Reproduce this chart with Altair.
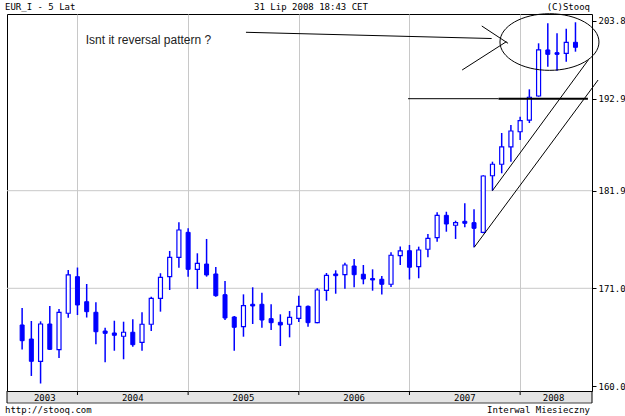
import altair as alt
import pandas as pd

# ---------------- data (monthly EUR_I candles, Jul 2003 - Jul 2008) ----------------
opens = [166.87, 165.29, 162.78, 166.98, 164.09, 168.19, 172.30, 169.49, 168.30, 166.19,
         165.97, 165.60, 166.05, 164.92, 166.95, 169.87, 172.30, 174.46, 177.25, 173.12,
         173.71, 172.60, 170.28, 167.77, 166.68, 169.20, 169.20, 167.58, 167.17, 166.95,
         167.62, 168.97, 167.13, 170.77, 172.60, 172.52, 173.49, 172.57, 172.09, 172.01,
         171.45, 174.66, 175.20, 173.41, 175.36, 176.65, 179.15, 178.04, 178.48, 178.33,
         177.25, 183.69, 185.06, 187.13, 188.95, 190.35, 193.28, 199.71, 199.33, 199.22,
         200.78]
highs = [168.78, 167.32, 167.28, 169.01, 168.67, 173.04, 173.32, 171.48, 169.42, 166.56,
         167.35, 167.24, 167.51, 168.30, 170.05, 172.68, 175.17, 178.37, 177.70, 174.91,
         176.51, 173.38, 171.82, 167.88, 170.32, 171.11, 170.50, 169.20, 168.07, 168.44,
         170.17, 169.06, 171.00, 172.71, 173.01, 173.86, 174.27, 173.60, 173.12, 172.37,
         175.02, 175.67, 175.84, 175.65, 177.06, 179.49, 179.55, 178.55, 180.49, 179.82,
         183.74, 185.37, 188.80, 189.76, 190.75, 194.21, 200.64, 203.44, 202.04, 202.67,
         203.58]
lows = [164.11, 161.13, 160.28, 164.05, 163.15, 167.69, 167.99, 167.71, 164.69, 162.67,
        163.97, 163.01, 164.42, 163.97, 166.19, 168.37, 170.81, 173.30, 172.30, 170.92,
        172.30, 170.05, 167.43, 163.97, 165.55, 166.98, 166.56, 166.31, 164.50, 165.48,
        167.21, 166.68, 167.06, 169.60, 170.39, 170.95, 171.11, 171.45, 170.73, 170.30,
        171.15, 173.60, 171.98, 172.12, 174.46, 176.20, 177.32, 176.51, 177.81, 175.58,
        177.14, 181.90, 183.98, 185.37, 187.96, 189.99, 193.18, 197.37, 196.81, 198.07,
        199.47]
closes = [165.10, 162.78, 166.98, 164.13, 168.30, 172.49, 169.12, 168.37, 166.11, 165.93,
          165.71, 166.05, 164.65, 166.95, 169.87, 172.23, 174.46, 177.51, 173.12, 173.79,
          172.49, 170.17, 167.66, 166.61, 169.04, 169.01, 167.43, 167.13, 166.87, 167.73,
          168.97, 167.13, 170.81, 172.45, 172.41, 173.60, 172.52, 172.04, 171.93, 171.45,
          174.69, 175.17, 173.35, 175.28, 176.58, 179.15, 178.18, 178.33, 178.26, 177.70,
          183.66, 185.06, 187.13, 189.04, 190.27, 193.10, 199.71, 199.10, 199.10, 200.78,
          200.08]
months = pd.date_range("2003-07-01", periods=len(opens), freq="MS")
years = ["2003", "2004", "2005", "2006", "2007", "2008"]
y_tick_values = [160.0, 171.0, 181.9, 192.9, 203.8]
grid_values = [171.0, 181.9]

# hand-drawn annotations, in data coordinates (month index, price)
note_text = ["Isnt it reversal pattern ?"]
note_x = [6.9]
note_y = [200.54]
seg_x1 = [24.27, 49.84, 47.71, 41.85, 50.99, 49.02]
seg_y1 = [202.18, 203.06, 196.91, 192.9, 181.9, 175.58]
seg_x2 = [50.91, 52.69, 52.51, 51.66, 61.39, 62.45]
seg_y2 = [201.31, 200.64, 200.87, 192.9, 198.31, 195.51]
thick_x1 = [51.66]
thick_y1 = [192.9]
thick_x2 = [61.35]
thick_y2 = [192.9]
ellipse_x = [57.18]
ellipse_y = [200.82]

# ---------------- layout ----------------
W, H = 585, 377
BLUE = "#0000ff"
MONO = "DejaVu Sans Mono"

df = pd.DataFrame({"i": range(len(opens)), "open": opens, "high": highs,
                   "low": lows, "close": closes})

x_dom = [-1.098, 61.25]
xs = alt.Scale(domain=x_dom, nice=False, zero=False)
ys = alt.Scale(domain=[159.44] + y_tick_values + [204.74],
               range=[377, 372, 274.3, 176.7, 84.7, 6.7, 0],
               nice=False, zero=False)

boundaries = [k for k, m in enumerate(months) if m.month == 1]
edges = [x_dom[0]] + boundaries + [x_dom[1]]
year_df = pd.DataFrame({"year": years,
                        "c": [(edges[k] + edges[k + 1]) / 2 for k in range(len(years))]})
bound_df = pd.DataFrame({"b": boundaries})

xaxis = alt.Axis(values=boundaries, grid=True, gridColor="#c8c8c8", ticks=False,
                 labels=False, domain=False, title=None)
yaxis = alt.Axis(orient="right", values=y_tick_values, format=".1f", grid=False,
                 domain=False, ticks=True, tickSize=4, tickColor="black",
                 labelPadding=2, labelColor="black", labelFont=MONO, labelFontSize=9,
                 title=None)

grid = alt.Chart(pd.DataFrame({"v": grid_values})).mark_rule(
    color="#c8c8c8", strokeWidth=1).encode(y=alt.Y("v:Q", scale=ys, axis=yaxis))

wicks = alt.Chart(df).mark_rule(color=BLUE, strokeWidth=1.5).encode(
    x=alt.X("i:Q", scale=xs, axis=xaxis),
    y=alt.Y("low:Q", scale=ys, axis=yaxis),
    y2="high:Q")

down = alt.Chart(df).transform_filter("datum.close < datum.open").mark_bar(
    size=4, fill=BLUE, stroke=BLUE, strokeWidth=1).encode(
    x=alt.X("i:Q", scale=xs), y=alt.Y("open:Q", scale=ys), y2="close:Q")

up = alt.Chart(df).transform_filter("datum.close >= datum.open").mark_bar(
    size=4, fill="white", stroke=BLUE, strokeWidth=1.2).encode(
    x=alt.X("i:Q", scale=xs), y=alt.Y("open:Q", scale=ys), y2="close:Q")

seg_df = pd.DataFrame({"x1": seg_x1, "y1": seg_y1, "x2": seg_x2, "y2": seg_y2})
segs = alt.Chart(seg_df).mark_rule(color="black", strokeWidth=1).encode(
    x=alt.X("x1:Q", scale=xs), y=alt.Y("y1:Q", scale=ys), x2="x2:Q", y2="y2:Q")
thick_df = pd.DataFrame({"x1": thick_x1, "y1": thick_y1, "x2": thick_x2, "y2": thick_y2})
thick = alt.Chart(thick_df).mark_rule(color="black", strokeWidth=2).encode(
    x=alt.X("x1:Q", scale=xs), y=alt.Y("y1:Q", scale=ys), x2="x2:Q", y2="y2:Q")

ellipse = alt.Chart(pd.DataFrame({"x": ellipse_x, "y": ellipse_y})).mark_point(
    shape="M -1 0 A 1 0.572 0 1 1 1 0 A 1 0.572 0 1 1 -1 0 Z",
    size=9801, filled=False, color="black", strokeWidth=1, opacity=1).encode(
    x=alt.X("x:Q", scale=xs), y=alt.Y("y:Q", scale=ys))

note = alt.Chart(pd.DataFrame({"t": note_text, "x": note_x, "y": note_y})).mark_text(
    align="left", baseline="alphabetic", font="Liberation Sans", fontSize=12,
    color="#222222").encode(x=alt.X("x:Q", scale=xs), y=alt.Y("y:Q", scale=ys), text="t:N")

# bottom band with year labels
band = alt.Chart(pd.DataFrame({"a": [0]})).mark_rect(fill="#e4e4e4").encode(
    x=alt.value(0), x2=alt.value(W), y=alt.value(H + 1), y2=alt.value(H + 12))
band_line = alt.Chart(pd.DataFrame({"a": [0]})).mark_rule(color="#404040").encode(
    x=alt.value(0), x2=alt.value(W), y=alt.value(H + 12))
band_sides = alt.Chart(pd.DataFrame({"p": [0, W]})).mark_rule(color="black").encode(
    x=alt.X("p:Q", scale=None), y=alt.value(H), y2=alt.value(H + 12))
seps = alt.Chart(bound_df).mark_rule(color="black").encode(
    x=alt.X("b:Q", scale=xs), y=alt.value(H), y2=alt.value(H + 4))
year_lbl = alt.Chart(year_df).mark_text(font=MONO, fontSize=9, color="black",
                                        baseline="middle").encode(
    x=alt.X("c:Q", scale=xs), y=alt.value(H + 7), text="year:N")


def label(txt, x, y, align):
    return alt.Chart(pd.DataFrame({"t": [txt]})).mark_text(
        font=MONO, fontSize=9, color="black", align=align, baseline="middle").encode(
        x=alt.value(x), y=alt.value(y), text="t:N")


texts = [
    label("EUR_I - 5 Lat", -2, -7, "left"),
    label("31 Lip 2008 18:43 CET", 304, -7, "center"),
    label("(C)Stooq", 583, -7, "right"),
    label("http://stooq.com", -2, 396, "left"),
    label("Interwal Miesieczny", 583, 396, "right"),
]

chart = alt.layer(grid, wicks, down, up, segs, thick, ellipse, note,
                  band, band_line, band_sides, seps, year_lbl, *texts).properties(
    width=W, height=H,
    padding={"left": 7, "top": 14, "right": 33, "bottom": 25},
    autosize=alt.AutoSizeParams(type="none"),
    background="white",
).configure_view(stroke="black", strokeWidth=1)

chart.save("out.html", embed_options={"renderer": "svg", "actions": False})
